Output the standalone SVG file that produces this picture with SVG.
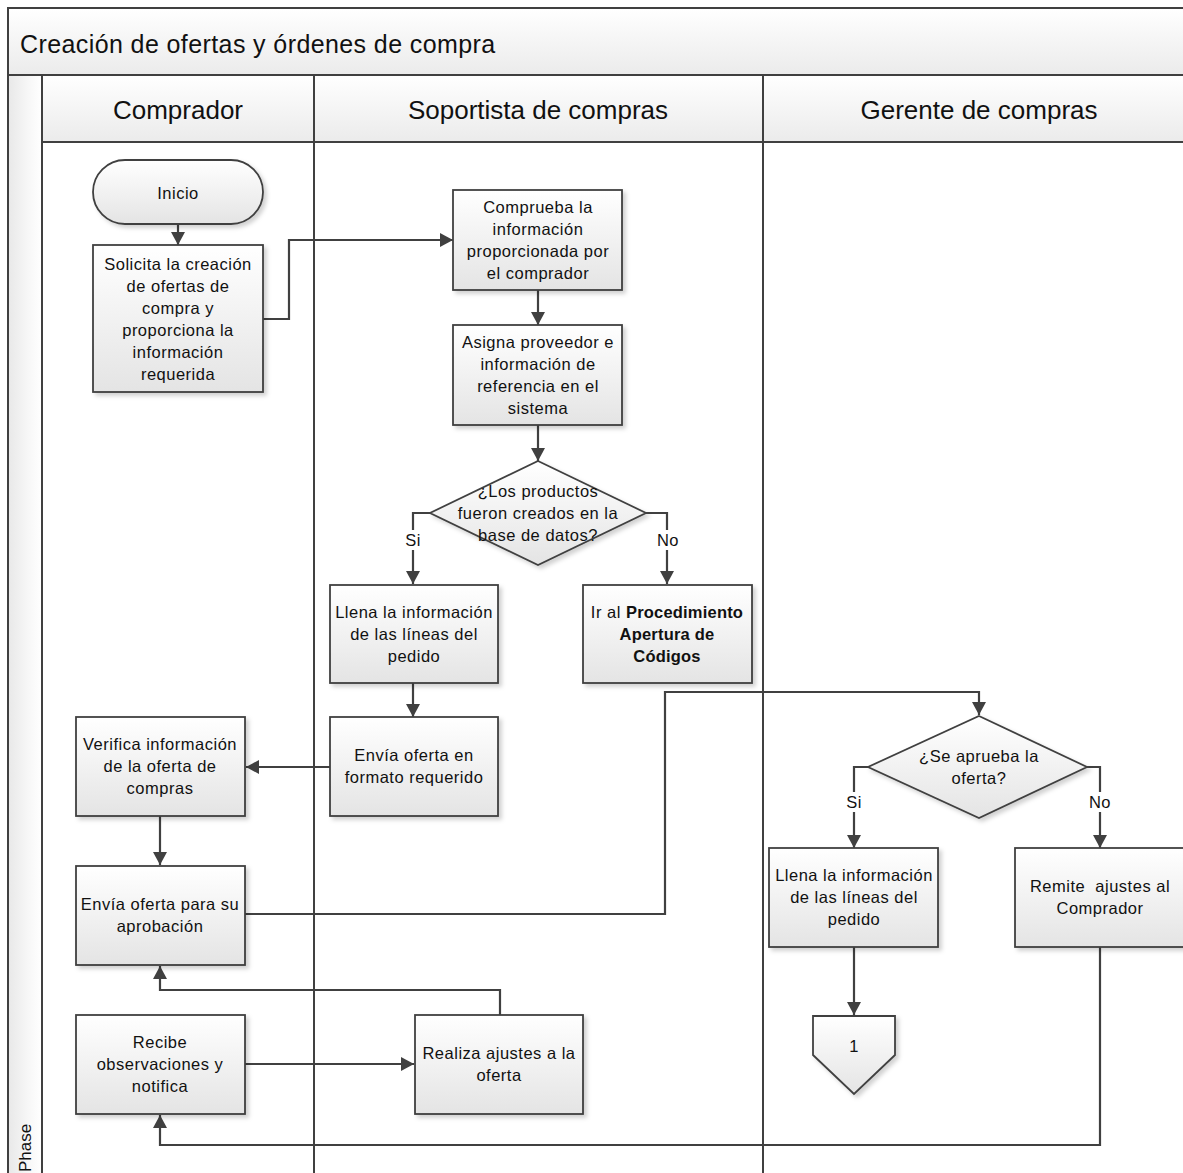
<svg xmlns="http://www.w3.org/2000/svg" width="1183" height="1173" viewBox="0 0 1183 1173">
  <defs>
    <linearGradient id="gBox" x1="0" y1="0" x2="0" y2="1">
      <stop offset="0" stop-color="#ffffff"/>
      <stop offset="1" stop-color="#e4e4e4"/>
    </linearGradient>
    <linearGradient id="gHead" x1="0" y1="0" x2="0" y2="1">
      <stop offset="0" stop-color="#ffffff"/>
      <stop offset="1" stop-color="#ebebeb"/>
    </linearGradient>
    <linearGradient id="gPhase" x1="0" y1="0" x2="1" y2="0">
      <stop offset="0" stop-color="#e8e8e8"/>
      <stop offset="0.6" stop-color="#f7f7f7"/>
      <stop offset="1" stop-color="#ffffff"/>
    </linearGradient>
    <filter id="shadow" x="-10%" y="-10%" width="130%" height="130%">
      <feDropShadow dx="3" dy="3" stdDeviation="2" flood-color="#000" flood-opacity="0.18"/>
    </filter>
    <marker id="arrow" markerUnits="userSpaceOnUse" markerWidth="16" markerHeight="16" refX="13" refY="7" orient="auto">
      <path d="M0,0 L13,7 L0,14 z" fill="#404040"/>
    </marker>
    <style>
      .frame { fill: none; stroke: #404040; stroke-width: 2; }
      .box { fill: url(#gBox); stroke: #404040; stroke-width: 1.8; filter: url(#shadow); }
      .t { font-family: "Liberation Sans", Arial, sans-serif; font-size: 16.5px; letter-spacing: 0.5px; fill: #111; text-anchor: middle; }
      .b { font-weight: bold; letter-spacing: 0.2px; }
      .lane { font-family: "Liberation Sans", Arial, sans-serif; font-size: 26px; fill: #111; text-anchor: middle; }
      .title { font-family: "Liberation Sans", Arial, sans-serif; font-size: 25px; letter-spacing: 0.4px; fill: #111; }
      .phase { font-family: "Liberation Sans", Arial, sans-serif; font-size: 17px; fill: #111; }
      .conn { fill: none; stroke: #404040; stroke-width: 2.2; }
      .arr { marker-end: url(#arrow); }
      .lbl { fill: #ffffff; stroke: none; }
    </style>
  </defs>

  <rect width="1183" height="1173" fill="#ffffff"/>

  <!-- pool: title bar, lane headers, phase column -->
  <g id="pool">
    <rect x="8" y="8" width="1185" height="67" fill="url(#gHead)"/>
    <rect x="8" y="75" width="34" height="1110" fill="url(#gPhase)"/>
    <rect x="42" y="75" width="1151" height="67" fill="url(#gHead)"/>
    <path class="frame" d="M8,1185 V8 H1195 M8,75 H1195 M42,142 H1195 M42,75 V1185 M314,75 V1185 M763,75 V1185"/>
    <text class="title" x="20" y="53">Creación de ofertas y órdenes de compra</text>
    <text class="lane" x="178" y="119">Comprador</text>
    <text class="lane" x="538" y="119">Soportista de compras</text>
    <text class="lane" x="979" y="119">Gerente de compras</text>
    <text class="phase" transform="translate(31,1172) rotate(-90)">Phase</text>
  </g>

  <!-- connectors -->
  <g id="connectors">
    <path class="conn arr" d="M178,224 V245"/>
    <path class="conn arr" d="M263,319 H289 V240 H453"/>
    <path class="conn arr" d="M538,290 V325"/>
    <path class="conn arr" d="M538,425 V461"/>
    <path class="conn arr" d="M430,513 H413 V584"/>
    <path class="conn arr" d="M646,513 H667 V584"/>
    <path class="conn arr" d="M413,683 V717"/>
    <path class="conn arr" d="M330,767 H246"/>
    <path class="conn arr" d="M160,816 V865"/>
    <path class="conn arr" d="M245,914 H665 V692 H979 V715"/>
    <path class="conn arr" d="M868,767 H854 V848"/>
    <path class="conn arr" d="M1087,767 H1100 V848"/>
    <path class="conn arr" d="M854,947 V1015"/>
    <path class="conn arr" d="M1100,947 V1145 H160 V1115"/>
    <path class="conn arr" d="M500,1015 V990 H160 V966"/>
    <path class="conn arr" d="M245,1064 H414"/>
    <!-- branch labels -->
    <rect class="lbl" x="403" y="530" width="20" height="20"/>
    <text class="t" x="413" y="546">Si</text>
    <rect class="lbl" x="654" y="530" width="27" height="20"/>
    <text class="t" x="668" y="546">No</text>
    <rect class="lbl" x="844" y="792" width="20" height="20"/>
    <text class="t" x="854" y="808">Si</text>
    <rect class="lbl" x="1087" y="792" width="27" height="20"/>
    <text class="t" x="1100" y="808">No</text>
  </g>

  <g id="inicio">
    <rect class="box" x="93" y="160" width="170" height="64" rx="32" ry="32"/>
    <text class="t" x="178" y="198.5">Inicio</text>
  </g>

  <g id="solicita">
    <rect class="box" x="93" y="245" width="170" height="147"/>
    <text class="t" x="178" y="269.5">Solicita la creación</text>
    <text class="t" x="178" y="291.5">de ofertas de</text>
    <text class="t" x="178" y="313.5">compra y</text>
    <text class="t" x="178" y="335.5">proporciona la</text>
    <text class="t" x="178" y="357.5">información</text>
    <text class="t" x="178" y="379.5">requerida</text>
  </g>

  <g id="comprueba">
    <rect class="box" x="453" y="190" width="169" height="100"/>
    <text class="t" x="538" y="212.5">Comprueba la</text>
    <text class="t" x="538" y="234.5">información</text>
    <text class="t" x="538" y="256.5">proporcionada por</text>
    <text class="t" x="538" y="278.5">el comprador</text>
  </g>

  <g id="asigna">
    <rect class="box" x="453" y="325" width="169" height="100"/>
    <text class="t" x="538" y="347.5">Asigna proveedor e</text>
    <text class="t" x="538" y="369.5">información de</text>
    <text class="t" x="538" y="391.5">referencia en el</text>
    <text class="t" x="538" y="413.5">sistema</text>
  </g>

  <g id="decision-productos">
    <polygon class="box" points="538,461 646,513 538,565 430,513"/>
    <text class="t" x="538" y="497">¿Los productos</text>
    <text class="t" x="538" y="519">fueron creados en la</text>
    <text class="t" x="538" y="541">base de datos?</text>
  </g>

  <g id="llena-lineas">
    <rect class="box" x="330" y="585" width="168" height="98"/>
    <text class="t" x="414" y="617.5">Llena la información</text>
    <text class="t" x="414" y="639.5">de las líneas del</text>
    <text class="t" x="414" y="661.5">pedido</text>
  </g>

  <g id="apertura-codigos">
    <rect class="box" x="583" y="585" width="169" height="98"/>
    <text class="t" x="667" y="617.5">Ir al <tspan class="b">Procedimiento</tspan></text>
    <text class="t b" x="667" y="639.5">Apertura de</text>
    <text class="t b" x="667" y="661.5">Códigos</text>
  </g>

  <g id="envia-formato">
    <rect class="box" x="330" y="717" width="168" height="99"/>
    <text class="t" x="414" y="760.5">Envía oferta en</text>
    <text class="t" x="414" y="782.5">formato requerido</text>
  </g>

  <g id="verifica">
    <rect class="box" x="76" y="717" width="169" height="99"/>
    <text class="t" x="160" y="749.5">Verifica información</text>
    <text class="t" x="160" y="771.5">de la oferta de</text>
    <text class="t" x="160" y="793.5">compras</text>
  </g>

  <g id="envia-aprobacion">
    <rect class="box" x="76" y="866" width="169" height="99"/>
    <text class="t" x="160" y="909.5">Envía oferta para su</text>
    <text class="t" x="160" y="931.5">aprobación</text>
  </g>

  <g id="decision-aprueba">
    <polygon class="box" points="979,716 1087,767 979,818 868,767"/>
    <text class="t" x="979" y="761.5">¿Se aprueba la</text>
    <text class="t" x="979" y="783.5">oferta?</text>
  </g>

  <g id="llena-lineas-gerente">
    <rect class="box" x="769" y="848" width="169" height="99"/>
    <text class="t" x="854" y="880.5">Llena la información</text>
    <text class="t" x="854" y="902.5">de las líneas del</text>
    <text class="t" x="854" y="924.5">pedido</text>
  </g>

  <g id="remite">
    <rect class="box" x="1015" y="848" width="172" height="99"/>
    <text class="t" x="1100" y="891.5" xml:space="preserve">Remite  ajustes al</text>
    <text class="t" x="1100" y="913.5">Comprador</text>
  </g>

  <g id="conector-1">
    <polygon class="box" points="813,1016 895,1016 895,1055 854,1094 813,1055"/>
    <text class="t" x="854" y="1052">1</text>
  </g>

  <g id="recibe">
    <rect class="box" x="76" y="1015" width="169" height="99"/>
    <text class="t" x="160" y="1047.5">Recibe</text>
    <text class="t" x="160" y="1069.5">observaciones y</text>
    <text class="t" x="160" y="1091.5">notifica</text>
  </g>

  <g id="realiza">
    <rect class="box" x="415" y="1015" width="168" height="99"/>
    <text class="t" x="499" y="1058.5">Realiza ajustes a la</text>
    <text class="t" x="499" y="1080.5">oferta</text>
  </g>
</svg>
